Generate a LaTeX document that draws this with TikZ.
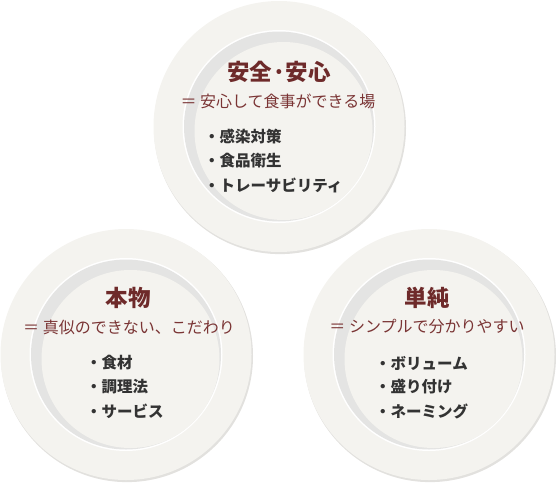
\documentclass[tikz,border=0pt]{standalone}
\usepackage{fontspec}
\setmainfont{Noto Sans CJK JP}
\definecolor{platefill}{HTML}{F4F3EF}
\definecolor{plateshadow}{HTML}{E2E1DE}
\definecolor{crescent}{HTML}{E4E4E3}
\definecolor{titlered}{HTML}{6E2A2A}
\definecolor{subred}{HTML}{7A3434}
\definecolor{itemgray}{HTML}{333333}
\tikzset{
  pics/plate/.style={code={
    \fill[plateshadow] (1,1.6) circle (126pt);
    \fill[platefill] (0,0) circle (125.5pt);
    \fill[white] (0,0) circle (96.5pt);
    \fill[crescent] (0,0) circle (95pt);
    \fill[platefill] (4.5,4.5) circle (89pt);
  }},
  titletext/.style={inner sep=0pt, text=titlered, font=\fontsize{22.5}{26}\selectfont\bfseries},
  subtext/.style={inner sep=0pt, text=subred, font=\fontsize{16}{20}\selectfont},
  itemtext/.style={inner sep=0pt, anchor=west, text=itemgray, font=\fontsize{15.5}{20}\selectfont\bfseries},
}
\begin{document}
\begin{tikzpicture}[x=1pt,y=-1pt]
\useasboundingbox (0,0) rectangle (556,482);
\pic (p1) at (279,126.5) {plate};
\pic (p2) at (126,354.5) {plate};
\pic (p3) at (429,354.5) {plate};
% top plate
\node[titletext] (t1) at (279,72) {安全·安心};
\node[subtext] (s1) at (278,101) {＝ 安心して食事ができる場};
\node[itemtext] (a1) at (204,137) {・感染対策};
\node[itemtext] (a2) at (204,161) {・食品衛生};
\node[itemtext] (a3) at (204,185) {・トレーサビリティ};
% bottom left
\node[titletext] (t2) at (128,298) {本物};
\node[subtext] (s2) at (129,327) {＝ 真似のできない、こだわり};
\node[itemtext] (b1) at (86,363) {・食材};
\node[itemtext] (b2) at (86,387) {・調理法};
\node[itemtext] (b3) at (86,411) {・サービス};
% bottom right
\node[titletext] (t3) at (427,298) {単純};
\node[subtext] (s3) at (427,327) {＝ シンプルで分かりやすい};
\node[itemtext] (c1) at (375,363) {・ボリューム};
\node[itemtext] (c2) at (375,387) {・盛り付け};
\node[itemtext] (c3) at (375,411) {・ネーミング};
\end{tikzpicture}
\end{document}
